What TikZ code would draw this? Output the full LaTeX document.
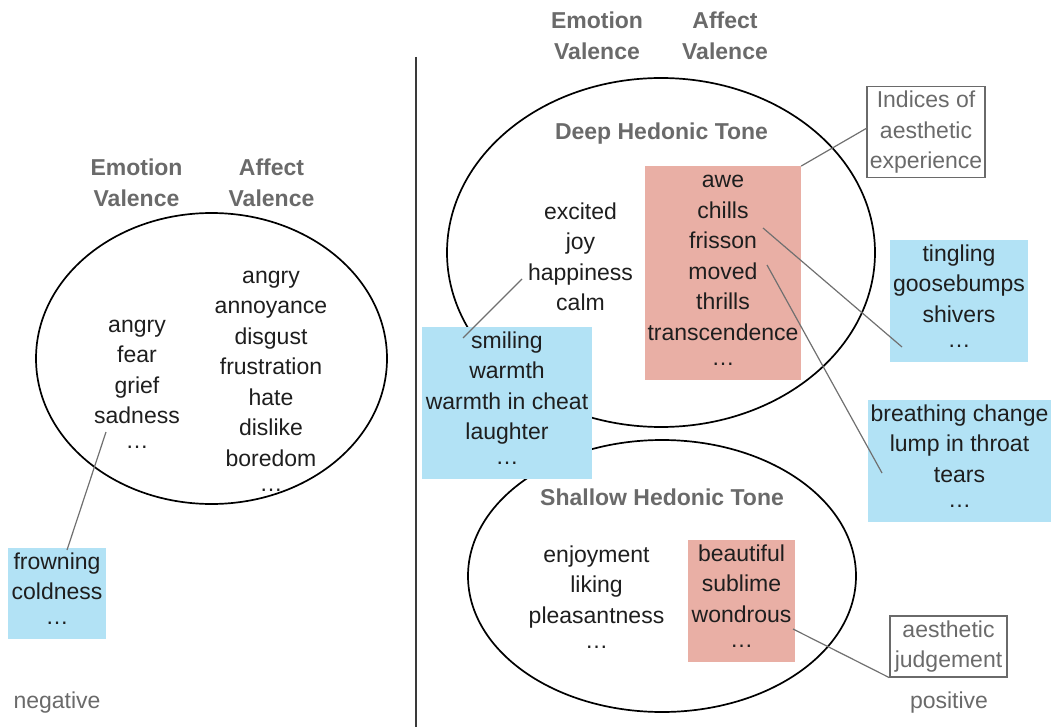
\documentclass[tikz,border=0pt]{standalone}
\usepackage{fontspec}
\setmainfont{Liberation Sans}
\usetikzlibrary{shapes.geometric}

\definecolor{skin}{HTML}{B2E2F5}
\definecolor{rose}{HTML}{E9AFA5}
\definecolor{inkgray}{HTML}{6A6A6A}
\definecolor{ink}{HTML}{1E1E1E}
\definecolor{wirecol}{HTML}{707070}
\definecolor{rulecol}{HTML}{3A3A3A}

% a centred column of words with an even line pitch
\newcommand\wordcol[1]{\begin{tabular}{@{}c@{}}#1\end{tabular}}
% ellipsis sitting at mid height of the line
\newcommand\middots{\raisebox{0.24em}{\dots}}

\begin{document}
\begin{tikzpicture}[x=1pt,y=-1pt,
  words/.style={font=\fontsize{23}{30.5}\selectfont, text=ink, inner sep=0pt},
  head/.style={words, font=\fontsize{23}{30.5}\selectfont\bfseries, text=inkgray},
  note/.style={words, text=inkgray},
  bluebox/.style={words, rectangle, fill=skin},
  redbox/.style={words, rectangle, fill=rose},
  tagbox/.style={note, rectangle, draw=inkgray, line width=1.3pt},
  ring/.style={ellipse, draw=black, line width=1.7pt, inner sep=0pt},
  wire/.style={draw=wirecol, line width=1.2pt},
]
\useasboundingbox (0,0) rectangle (1054,727);

% ---------- negative side ----------
\node[ring, minimum width=351pt, minimum height=291pt] (lring) at (211.5,358.5) {};
\node[head] (lhemo) at (136.5,185) {\wordcol{Emotion\\Valence}};
\node[head] (lhaff) at (271.5,185) {\wordcol{Affect\\Valence}};
\node[words] (lemo) at (137,387) {\wordcol{angry\\fear\\grief\\sadness\\\middots}};
\node[words] (laff) at (271,384) {\wordcol{angry\\annoyance\\disgust\\frustration\\hate\\dislike\\boredom\\\middots}};
\node[bluebox, minimum width=98pt, minimum height=87pt] (frown) at (57,593.5)
  {\wordcol{frowning\\coldness\\\middots}};
\node[note] (neg) at (57,703) {negative};

% divider
\coordinate (divtop) at (416,57);
\coordinate (divbot) at (416,727);
\draw[draw=rulecol, line width=1.6pt] (divtop) -- (divbot);

% ---------- positive side ----------
\node[ring, minimum width=428pt, minimum height=349pt] (deep) at (661,252.5) {};
\node[ring, minimum width=388pt, minimum height=272pt] (shallow) at (662,576) {};

\node[head] (rhemo) at (597,38) {\wordcol{Emotion\\Valence}};
\node[head] (rhaff) at (725,38) {\wordcol{Affect\\Valence}};

\node[head] (deeptitle) at (661.5,134) {Deep Hedonic Tone};
\node[words] (deepemo) at (580.5,259) {\wordcol{excited\\joy\\happiness\\calm}};
\node[redbox, minimum width=156pt, minimum height=210pt] (deepaff) at (723,273)
  {\wordcol{awe\\chills\\frisson\\moved\\thrills\\transcendence\\\middots}};

\node[head] (shallowtitle) at (662,497) {Shallow Hedonic Tone};
\node[words] (shalemo) at (596.5,602) {\wordcol{enjoyment\\liking\\pleasantness\\\middots}};
\node[redbox, minimum width=107pt, minimum height=118pt] (shalaff) at (741.5,601)
  {\wordcol{beautiful\\sublime\\wondrous\\\middots}};

\node[bluebox, minimum width=170pt, minimum height=150pt] (smile) at (507,403)
  {\wordcol{smiling\\warmth\\warmth in cheat\\laughter\\\middots}};
\node[bluebox, minimum width=138pt, minimum height=118pt] (tingle) at (959,301)
  {\wordcol{tingling\\goosebumps\\shivers\\\middots}};
\node[bluebox, minimum width=183pt, minimum height=118pt] (breath) at (959.5,461)
  {\wordcol{breathing change\\lump in throat\\tears\\\middots}};

\node[tagbox, minimum width=118pt, minimum height=90pt] (indices) at (926,132)
  {\wordcol{Indices of\\aesthetic\\experience}};
\node[tagbox, minimum width=117pt, minimum height=59pt] (judge) at (948.5,646.5)
  {\wordcol{aesthetic\\judgement}};
\node[note] (pos) at (949,703) {positive};

% ---------- connectors ----------
\coordinate (sadtip) at (106,432);
\coordinate (frowntip) at (67,550);
\coordinate (happytip) at (522,279);
\coordinate (smiletip) at (463,338);
\coordinate (indtip) at (867,128);
\coordinate (chilltip) at (763,228);
\coordinate (tingletip) at (902,347);
\coordinate (movedtip) at (767,265);
\coordinate (breathtip) at (882,473);
\coordinate (wondtip) at (793,629);

\draw[wire] (sadtip) -- (frowntip);
\draw[wire] (happytip) -- (smiletip);
\draw[wire] (deepaff.north east) -- (indtip);
\draw[wire] (chilltip) -- (tingletip);
\draw[wire] (movedtip) -- (breathtip);
\draw[wire] (wondtip) -- (judge.south west);
\end{tikzpicture}
\end{document}
